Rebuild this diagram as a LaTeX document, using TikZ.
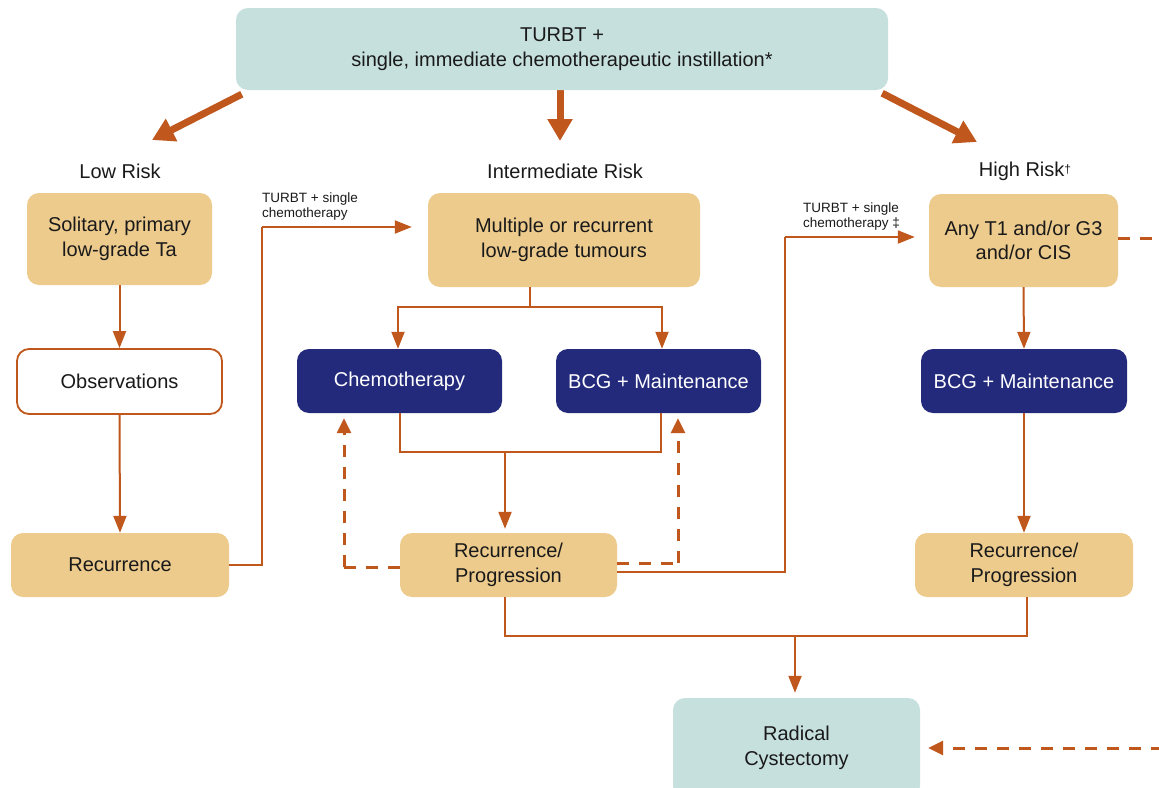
\documentclass[tikz,border=0pt]{standalone}
\usepackage{fontspec}
\setmainfont{Liberation Sans}
\usetikzlibrary{arrows.meta,backgrounds}
\definecolor{teal0}{HTML}{C6E0DE}
\definecolor{tan0}{HTML}{EDCB8D}
\definecolor{navy0}{HTML}{232A7C}
\definecolor{org}{HTML}{C0571C}
\definecolor{txt}{HTML}{1A1A1A}
\begin{document}
\begin{tikzpicture}[x=1pt,y=-1pt,
  box/.style={rounded corners=12pt,align=center,inner sep=0pt,text=txt,
    font=\fontsize{20}{24.5}\selectfont},
  tanbox/.style={box,fill=tan0},
  navybox/.style={box,fill=navy0,text=white},
  tealbox/.style={box,fill=teal0},
  whitebox/.style={box,fill=white,draw=org,line width=1.8pt},
  head/.style={text=txt,font=\fontsize{20}{24}\selectfont},
  small/.style={text=txt,font=\fontsize{13.5}{15}\selectfont,align=left,inner sep=0pt},
  conn/.style={draw=org,line width=2pt,-{Triangle[length=17pt,width=13pt]}},
  plain/.style={draw=org,line width=2pt},
  dconn/.style={draw=org,line width=3pt,dash pattern=on 12pt off 10pt,-{Triangle[length=15pt,width=14pt]}},
  dplain/.style={draw=org,line width=3pt,dash pattern=on 12pt off 10pt},
  thick/.style={draw=org,line width=7pt,-{Triangle[length=22pt,width=24pt]}}]
\useasboundingbox (0,0) rectangle (1159,787);

\node[tealbox,minimum width=652pt,minimum height=82pt] (top) at (562,49)
  {TURBT +\\single, immediate chemotherapeutic instillation*};

\node[head] (lowh) at (120,171) {Low Risk};
\node[head] (midh) at (565,171) {Intermediate Risk};
\node[head] (highh) at (1025,171) {High Risk\raisebox{3pt}{\fontsize{12}{12}\selectfont\dag}};

\node[tanbox,minimum width=185pt,minimum height=92pt] (sol) at (119.5,239) {Solitary, primary\\low-grade Ta};
\node[whitebox,minimum width=205pt,minimum height=65pt] (obs) at (119.5,381.5) {Observations};
\node[tanbox,minimum width=218pt,minimum height=64pt] (recl) at (120,565) {Recurrence};

\node[tanbox,minimum width=272pt,minimum height=94pt] (mult) at (564,240) {Multiple or recurrent\\low-grade tumours};
\node[navybox,minimum width=205pt,minimum height=64pt] (chemo) at (399.5,381) {Chemotherapy};
\node[navybox,minimum width=205pt,minimum height=64pt] (bcgm) at (658.5,381) {BCG + Maintenance};
\node[tanbox,minimum width=217pt,minimum height=64pt] (rpm) at (508.5,565) {Recurrence/\\Progression};

\node[tanbox,minimum width=189pt,minimum height=93pt] (any) at (1023.5,240.5) {Any T1 and/or G3\\and/or CIS};
\node[navybox,minimum width=206pt,minimum height=64pt] (bcgr) at (1024,381) {BCG + Maintenance};
\node[tanbox,minimum width=218pt,minimum height=64pt] (rpr) at (1024,565) {Recurrence/\\Progression};

\node[tealbox,minimum width=247pt,minimum height=100pt] (rad) at (796.5,748) {Radical\\Cystectomy};

\node[small,anchor=south west] (lab1) at (262,220) {TURBT + single\\chemotherapy};
\node[small,anchor=south west] (lab2) at (803,230) {TURBT + single\\chemotherapy \ddag};

\coordinate (tipL) at (152,140);
\coordinate (tipM) at (560,141);
\coordinate (tipR) at (977,142);
\coordinate (lowj) at (262,565);
\coordinate (lowk) at (262,227);
\coordinate (mj) at (530,307);
\coordinate (cj) at (505,452);
\coordinate (hj) at (785,572);
\coordinate (hk) at (785,237);
\coordinate (bj) at (795,636);
\coordinate (dl) at (344,567);
\coordinate (dr) at (678,563);
\coordinate (e1) at (1163,238);
\coordinate (e2) at (1163,748);

\begin{scope}[on background layer]
\fill[white] (0,0) rectangle (1159,787);
\draw[thick] ([shift={(6pt,-4pt)}]top.south west) -- (tipL);
\draw[thick] (top.south -| tipM) -- (tipM);
\draw[thick] ([shift={(-6pt,-3pt)}]top.south east) -- (tipR);
\end{scope}

\draw[conn] (sol.south) -- (obs.north);
\draw[conn] (obs.south) -- (recl.north);
\draw[plain] (recl.east) -- (lowj) -- (lowk);
\draw[conn] (lowk) -- ([xshift=-16pt]mult.west |- lowk);

\draw[plain] (mult.south -| mj) -- (mj);
\draw[conn] (mj) -| ([xshift=-1.5pt]chemo.north);
\draw[conn] (mj) -| ([xshift=3.5pt]bcgm.north);
\draw[plain] (chemo.south) |- (cj) -| ([xshift=2.5pt]bcgm.south);
\draw[conn] (cj) -- ([yshift=4pt]rpm.north -| cj);

\draw[dplain] (rpm.west |- dl) -- (dl);
\draw[dconn] (dl) -- ([yshift=-5pt]chemo.south -| dl);
\draw[dplain] (rpm.east |- dr) -- (dr);
\draw[dconn] (dr) -- ([yshift=-5pt]bcgm.south -| dr);

\draw[plain] (rpm.east |- hj) -- (hj) -- (hk);
\draw[conn] (hk) -- ([xshift=-14pt]any.west |- hk);

\draw[conn] (any.south) -- (bcgr.north);
\draw[conn] (bcgr.south) -- (rpr.north);

\draw[plain] (rpm.south -| cj) |- (bj) -| ([xshift=3pt]rpr.south);
\draw[conn] (bj) -- ([yshift=5pt]rad.north -| bj);

\draw[dplain] (any.east |- e1) -- (e1) -- (e2);
\draw[dconn] (e2) -- ([xshift=8pt]rad.east |- e2);
\end{tikzpicture}
\end{document}
